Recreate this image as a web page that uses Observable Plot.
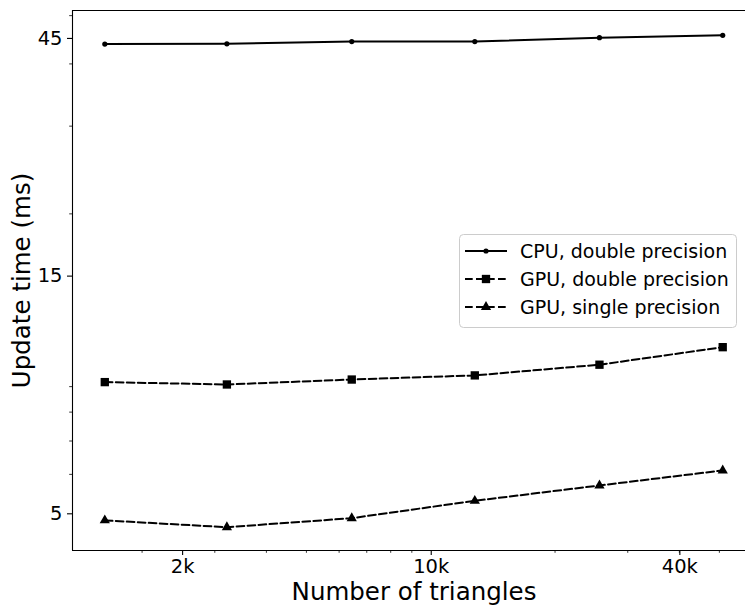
<!DOCTYPE html>
<html>
<head>
<meta charset="utf-8">
<script src="https://cdn.jsdelivr.net/npm/d3@7"></script>
<script src="https://cdn.jsdelivr.net/npm/@observablehq/plot@0.6"></script>
<style>
  html, body { margin: 0; padding: 0; background: #fff; }
  #chart { width: 745px; height: 605px; overflow: hidden; }
  svg { font-family: "DejaVu Sans", sans-serif; }
</style>
</head>
<body>
<div id="chart"></div>
<script>
// ---- data ----
const triangles = [1620, 3200, 6420, 12750, 25550, 50800];
const cpuDouble = [43.85, 43.9, 44.35, 44.35, 45.16, 45.64];
const gpuDouble = [9.19, 9.09, 9.30, 9.48, 9.96, 10.80];
const gpuSingle = [4.85, 4.70, 4.90, 5.31, 5.70, 6.11];
const seriesNames = ["CPU, double precision", "GPU, double precision", "GPU, single precision"];

const xTickValues = [2500, 10000, 40000];
const xTickLabels = ["2k", "10k", "40k"];
const xMinorTicks = [2000, 3000, 4000, 5000, 6000, 7000, 8000, 9000, 20000, 30000, 40000, 50000];
const yTickValues = [5, 15, 45];
const yTickLabels = ["5", "15", "45"];
const yMinorTicks = [6, 7, 8, 9, 20, 30, 40, 50];

const xLabel = "Number of triangles";
const yLabel = "Update time (ms)";

const toRows = (vals) => triangles.map((x, i) => ({x, y: vals[i]}));
const cpuRows = toRows(cpuDouble);
const gpuDRows = toRows(gpuDouble);
const gpuSRows = toRows(gpuSingle);

const xDomain = [1353, 57680];
const yDomain = [4.22, 51.2];
const dash = "7.7,3.3";
const tickFont = 19.5;
const labelFont = 24.5;
const legendFont = 19;

const svg = Plot.plot({
  width: 745,
  height: 605,
  marginLeft: 72,
  marginRight: 0,
  marginTop: 10,
  marginBottom: 55,
  style: {fontFamily: "DejaVu Sans, sans-serif", fontSize: tickFont + "px", background: "#fff", color: "#000", overflow: "visible"},
  x: {type: "log", domain: xDomain},
  y: {type: "log", domain: yDomain},
  marks: [
    // spines
    Plot.ruleX([xDomain[0]], {stroke: "#000", strokeWidth: 1.1}),
    Plot.ruleY([yDomain[0]], {stroke: "#000", strokeWidth: 1.1}),
    Plot.ruleY([yDomain[1]], {stroke: "#000", strokeWidth: 1.1}),
    // axes
    Plot.axisX({ticks: xTickValues, tickFormat: d => xTickLabels[xTickValues.indexOf(d)], tickSize: 5, tickPadding: 4, label: null, strokeWidth: 1.1, fontSize: tickFont}),
    Plot.axisY({ticks: yTickValues, tickFormat: d => yTickLabels[yTickValues.indexOf(d)], tickSize: 5, tickPadding: 5, label: null, strokeWidth: 1.1, fontSize: tickFont}),
    Plot.axisY({ticks: yMinorTicks, tickFormat: null, text: null, tickSize: 2.8, label: null, strokeWidth: 0.8}),
    // axis labels
    Plot.text([xLabel], {frameAnchor: "bottom", text: d => d, dy: 42, dx: 5, fontSize: labelFont, textAnchor: "middle", lineAnchor: "middle"}),
    Plot.text([yLabel], {frameAnchor: "left", text: d => d, dx: -50, rotate: -90, fontSize: labelFont, textAnchor: "middle", lineAnchor: "middle"}),
    // series
    Plot.line(cpuRows, {x: "x", y: "y", stroke: "#000", strokeWidth: 2}),
    Plot.dot(cpuRows, {x: "x", y: "y", r: 2.6, fill: "#000", stroke: "none"}),
    Plot.line(gpuDRows, {x: "x", y: "y", stroke: "#000", strokeWidth: 2, strokeDasharray: dash}),
    Plot.dot(gpuDRows, {x: "x", y: "y", symbol: "square", r: 4.7, fill: "#000", stroke: "none"}),
    Plot.line(gpuSRows, {x: "x", y: "y", stroke: "#000", strokeWidth: 2, strokeDasharray: dash}),
    Plot.dot(gpuSRows, {x: "x", y: "y", symbol: "triangle", r: 3.8, fill: "#000", stroke: "none"})
  ]
});

// ---- minor x ticks below the frame (positioned with the plot's x scale) ----
{
  const xs = svg.scale("x");
  const ys = svg.scale("y");
  const y0 = ys.apply(yDomain[0]);
  d3.select(svg).append("g").attr("stroke", "#000").attr("stroke-width", 0.8)
    .selectAll("line").data(xMinorTicks).join("line")
    .attr("x1", d => xs.apply(d)).attr("x2", d => xs.apply(d))
    .attr("y1", y0).attr("y2", y0 + 2.8);
}

// ---- legend ----
const lg = d3.select(svg).append("g").attr("transform", "translate(459,234)");
lg.append("rect").attr("x", 0.5).attr("y", 0.5).attr("width", 277).attr("height", 93)
  .attr("rx", 4).attr("fill", "#fff").attr("fill-opacity", 0.8).attr("stroke", "#cccccc").attr("stroke-width", 1);
const rowY = [17, 45, 73];
const symbols = [null, d3.symbolSquare, d3.symbolTriangle];
seriesNames.forEach((name, i) => {
  const g = lg.append("g").attr("transform", `translate(0,${rowY[i]})`);
  g.append("line").attr("x1", 6).attr("x2", 48).attr("y1", 0).attr("y2", 0)
    .attr("stroke", "#000").attr("stroke-width", 2)
    .attr("stroke-dasharray", i === 0 ? null : dash);
  if (i === 0) {
    g.append("circle").attr("cx", 27).attr("cy", 0).attr("r", 2.6).attr("fill", "#000");
  } else {
    const r = i === 1 ? 4.7 : 3.8;
    g.append("path").attr("transform", "translate(27,0)")
      .attr("d", d3.symbol(symbols[i], Math.PI * r * r)()).attr("fill", "#000");
  }
  g.append("text").attr("x", 61).attr("y", 0).attr("dy", "0.35em")
    .attr("text-anchor", "start")
    .attr("font-size", legendFont).attr("fill", "#000").text(name);
});

document.getElementById("chart").appendChild(svg);
</script>
</body>
</html>
